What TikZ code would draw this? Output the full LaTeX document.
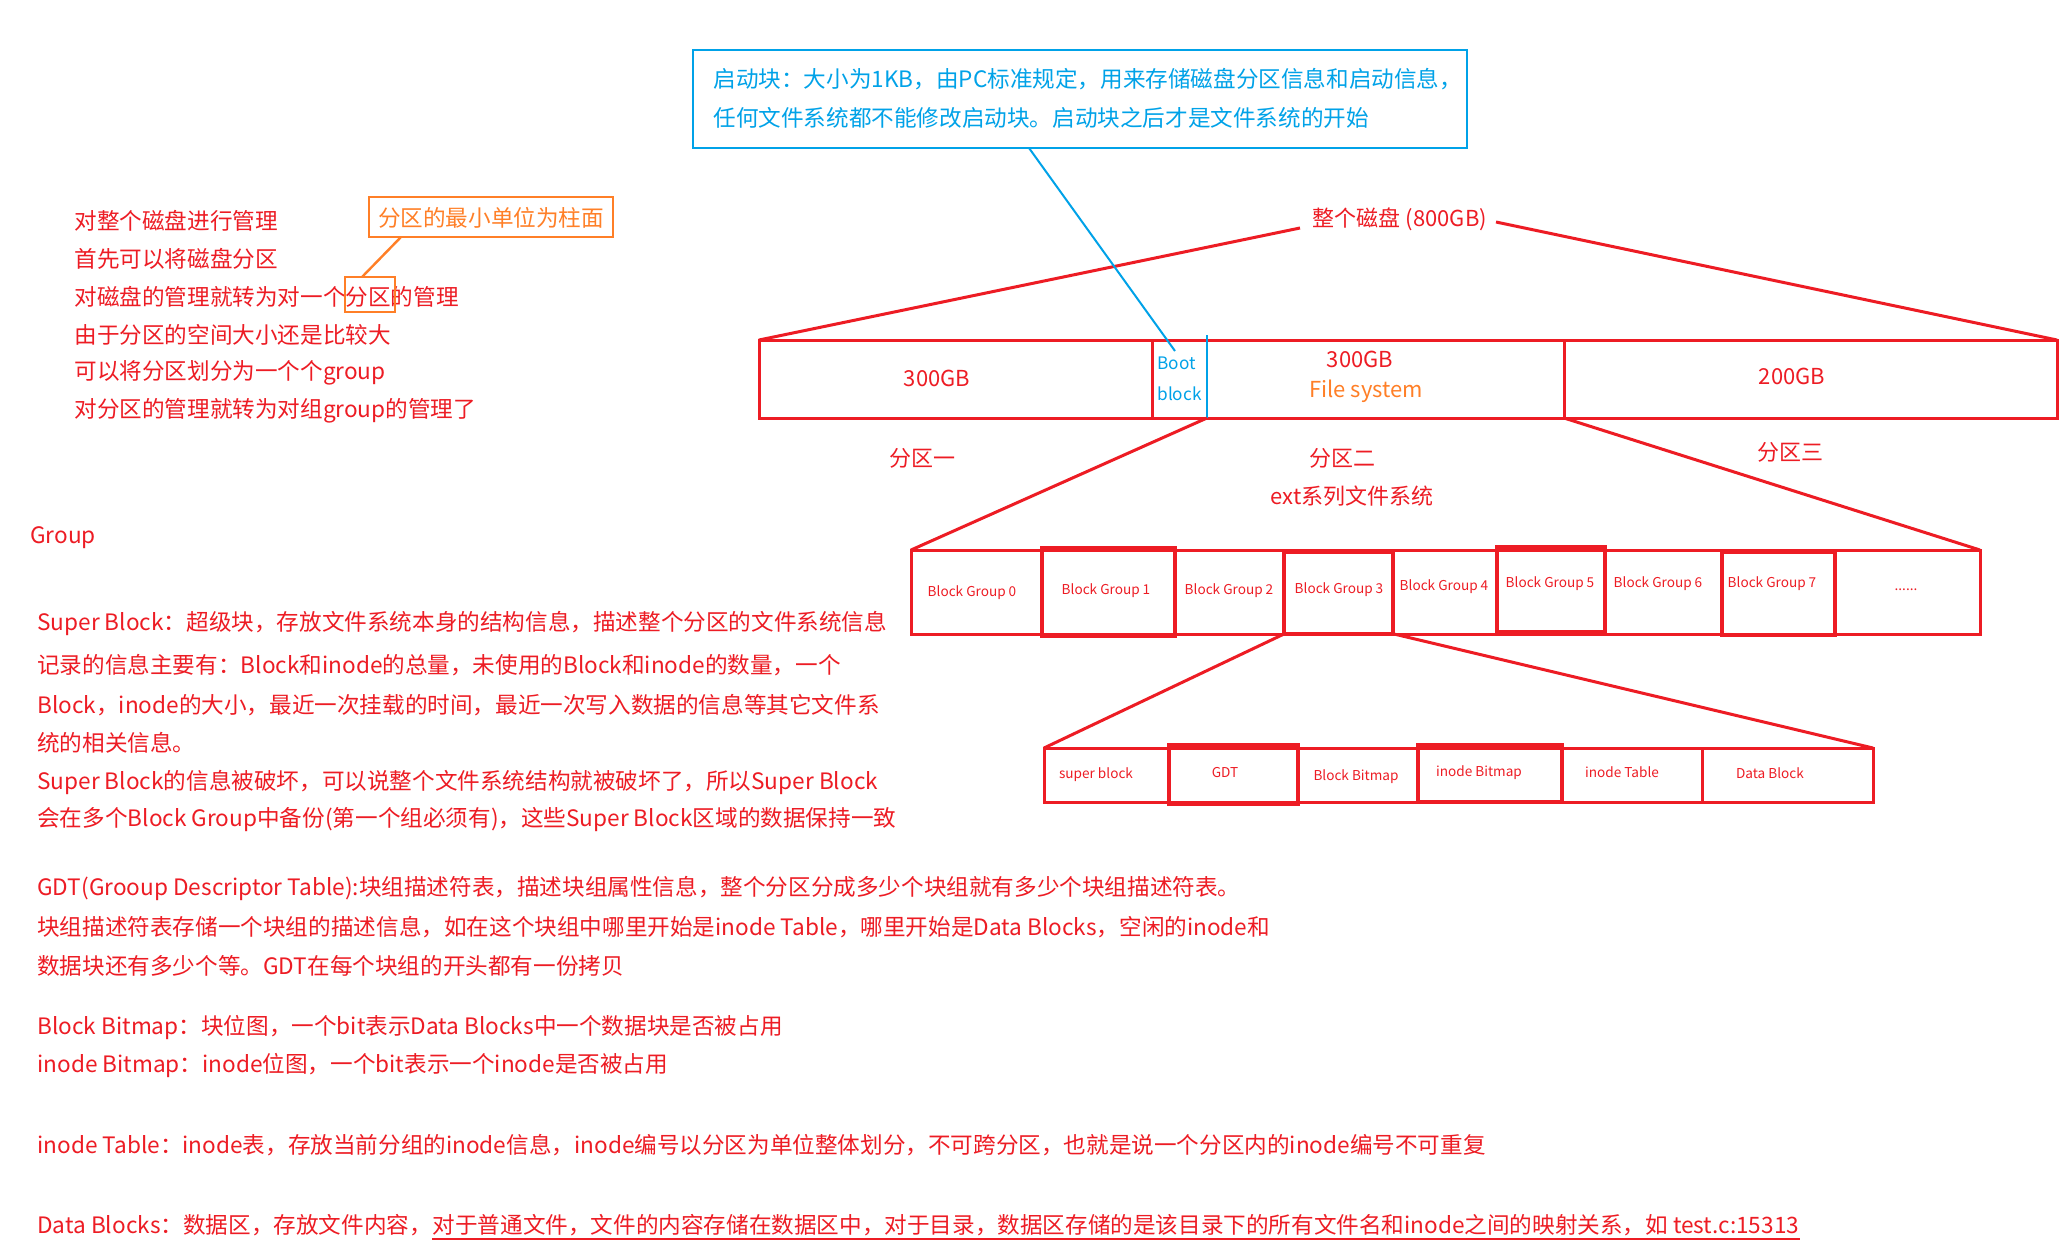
\documentclass[tikz,border=0pt]{standalone}
\usepackage{fontspec}
\setmainfont{Noto Sans CJK SC}
\definecolor{pred}{HTML}{ED1C24}
\definecolor{pblue}{HTML}{00A2E8}
\definecolor{porange}{HTML}{FF7F27}
\begin{document}
\begin{tikzpicture}[x=0.5pt,y=-0.5pt,
  txt/.style={anchor=west,inner sep=0pt,font=\fontsize{11.3}{13}\selectfont,text=pred},
  lbl/.style={inner sep=0pt,font=\fontsize{11}{13}\selectfont,text=pred},
  small/.style={inner sep=0pt,font=\fontsize{6.8}{9}\selectfont,text=pred},
  redline/.style={draw=pred,line width=1.5pt},
  thickred/.style={draw=pred,line width=2pt},
  blueline/.style={draw=pblue,line width=1pt},
  orangeline/.style={draw=porange,line width=1.2pt}]
\useasboundingbox (0,0) rectangle (2072,1243);
\fill[white] (0,0) rectangle (2072,1243);

% ---------- boot box ----------
\coordinate (bootTL) at (693,50);
\coordinate (bootBR) at (1467,148);
\draw[draw=pblue,line width=1.3pt] (bootTL) rectangle (bootBR);
\node[txt,text=pblue] (boot1) at (713,79) {启动块：大小为1KB，由PC标准规定，用来存储磁盘分区信息和启动信息，};
\node[txt,text=pblue] (boot2) at (713,118) {任何文件系统都不能修改启动块。启动块之后才是文件系统的开始};

% ---------- top-left text ----------
\node[txt] (l1) at (74,221) {对整个磁盘进行管理};
\node[txt] (l2) at (74,259) {首先可以将磁盘分区};
\node[txt] (l3) at (74,297) {对磁盘的管理就转为对一个分区的管理};
\node[txt] (l4) at (74,335) {由于分区的空间大小还是比较大};
\node[txt] (l5) at (74,373) {可以将分区划分为一个个group};
\node[txt] (l6) at (74,411) {对分区的管理就转为对组group的管理了};

\draw[orangeline] (369,197) rectangle (613,237);
\node[txt,anchor=center,text=porange] (cyl) at (491,218) {分区的最小单位为柱面};
\draw[orangeline] (345,277) rectangle (395,312);
\coordinate (smallTop) at (362,277);
\coordinate (cylBot) at (401,237);
\draw[orangeline] (smallTop) -- (cylBot);

% ---------- whole disk ----------
\node[lbl] (disk) at (1400,219) {整个磁盘 (800GB)};
\coordinate (dTL) at (759,340);
\coordinate (dBR) at (2057,418);
\coordinate (dTR) at (2057,340);
\coordinate (dlA) at (1300,228);
\coordinate (drA) at (1496,222);
\draw[redline] (dlA) -- (dTL);
\draw[redline] (drA) -- (dTR);
\draw[redline] (dTL) rectangle (dBR);
\coordinate (bbL1) at (1152,340);
\coordinate (bbL2) at (1152,418);
\draw[redline] (bbL1) -- (bbL2);
\coordinate (fsR1) at (1564,340);
\coordinate (fsR2) at (1564,418);
\draw[redline] (fsR1) -- (fsR2);
\coordinate (bbR1) at (1207,335);
\coordinate (bbR2) at (1207,418);
\draw[blueline] (bbR1) -- (bbR2);
\coordinate (bootOut) at (1029,148);
\coordinate (bootIn) at (1175,351);
\draw[blueline] (bootOut) -- (bootIn);

\node[lbl] (p1s) at (937,378) {300GB};
\node[inner sep=0pt,anchor=west,font=\fontsize{8.6}{10}\selectfont,text=pblue] (bootw) at (1157,363) {Boot};
\node[inner sep=0pt,anchor=west,font=\fontsize{8.6}{10}\selectfont,text=pblue] (blockw) at (1157,394) {block};
\node[lbl] (p2s) at (1360,359) {300GB};
\node[lbl,text=porange] (fs) at (1366,391) {File system};
\node[lbl] (p3s) at (1792,376) {200GB};
\node[lbl] (p1) at (922,458) {分区一};
\node[lbl] (p2) at (1342,458) {分区二};
\node[lbl] (p3) at (1790,452) {分区三};
\node[lbl] (ext) at (1352,496) {ext系列文件系统};

% ---------- block groups ----------
\coordinate (gTL) at (911,550);
\coordinate (gTR) at (1980,550);
\coordinate (gBR) at (1980,634);
\draw[redline] (bbR2) -- (gTL);
\draw[redline] (fsR2) -- (gTR);
\draw[redline] (gTL) rectangle (gBR);
\foreach \x in {1042,1175,1284,1393,1497,1605,1722,1835}
  \draw[redline] (\x,550) -- (\x,634);
\draw[thickred] (1042,548) rectangle (1175,636);
\draw[thickred] (1284,552) rectangle (1393,634);
\draw[thickred] (1497,547) rectangle (1605,632);
\draw[thickred] (1722,552) rectangle (1835,635);
\node[small] (bg0) at (972,593) {Block Group 0};
\node[small] (bg1) at (1106,591) {Block Group 1};
\node[small] (bg2) at (1229,591) {Block Group 2};
\node[small] (bg3) at (1339,590) {Block Group 3};
\node[small] (bg4) at (1444,587) {Block Group 4};
\node[small] (bg5) at (1550,584) {Block Group 5};
\node[small] (bg6) at (1658,584) {Block Group 6};
\node[small] (bg7) at (1772,584) {Block Group 7};
\node[small] (bgd) at (1906,590) {......};

% ---------- inside a block group ----------
\coordinate (g3L) at (1284,634);
\coordinate (g3R) at (1394,634);
\coordinate (iTL) at (1044,748);
\coordinate (iTR) at (1873,748);
\coordinate (iBR) at (1873,802);
\draw[redline] (g3L) -- (iTL);
\draw[redline] (g3R) -- (iTR);
\draw[redline] (iTL) rectangle (iBR);
\foreach \x in {1169,1298,1418,1562,1702}
  \draw[redline] (\x,748) -- (\x,802);
\draw[thickred] (1169,745) rectangle (1298,804);
\draw[thickred] (1418,745) rectangle (1562,802);
\node[small] (sb) at (1096,775) {super block};
\node[small] (gdt) at (1225,773) {GDT};
\node[small] (bbm) at (1356,777) {Block Bitmap};
\node[small] (ibm) at (1479,773) {inode Bitmap};
\node[small] (itb) at (1622,772) {inode Table};
\node[small] (db) at (1770,773) {Data Block};

% ---------- lower text ----------
\node[txt] (grp) at (30,538) {Group};
\node[txt] (s1) at (37,623) {Super Block：超级块，存放文件系统本身的结构信息，描述整个分区的文件系统信息};
\node[txt] (s2) at (37,665) {记录的信息主要有：Block和inode的总量，未使用的Block和inode的数量，一个};
\node[txt] (s3) at (37,705) {Block，inode的大小，最近一次挂载的时间，最近一次写入数据的信息等其它文件系};
\node[txt] (s4) at (37,743) {统的相关信息。};
\node[txt] (s5) at (37,782) {Super Block的信息被破坏，可以说整个文件系统结构就被破坏了，所以Super Block};
\node[txt] (s6) at (37,820) {会在多个Block Group中备份(第一个组必须有)，这些Super Block区域的数据保持一致};

\node[txt] (g1) at (37,888) {GDT(Grooup Descriptor Table):块组描述符表，描述块组属性信息，整个分区分成多少个块组就有多少个块组描述符表。};
\node[txt] (g2) at (37,927) {块组描述符表存储一个块组的描述信息，如在这个块组中哪里开始是inode Table，哪里开始是Data Blocks，空闲的inode和};
\node[txt] (g3) at (37,966) {数据块还有多少个等。GDT在每个块组的开头都有一份拷贝};

\node[txt] (b1) at (37,1027) {Block Bitmap：块位图，一个bit表示Data Blocks中一个数据块是否被占用};
\node[txt] (b2) at (37,1065) {inode Bitmap：inode位图，一个bit表示一个inode是否被占用};

\node[txt] (it) at (37,1145) {inode Table：inode表，存放当前分组的inode信息，inode编号以分区为单位整体划分，不可跨分区，也就是说一个分区内的inode编号不可重复};

\node[txt] (d1) at (37,1225) {Data Blocks：数据区，存放文件内容，};
\node[inner sep=0pt,anchor=base west,font=\fontsize{11.3}{13}\selectfont,text=pred] (d2) at (d1.base east) {对于普通文件，文件的内容存储在数据区中，对于目录，数据区存储的是该目录下的所有文件名和inode之间的映射关系，如 test.c:15313\ };
\draw[draw=pred,line width=1pt] ([yshift=-3pt]d2.base west) -- ([yshift=-3pt]d2.base east);
\end{tikzpicture}
\end{document}
